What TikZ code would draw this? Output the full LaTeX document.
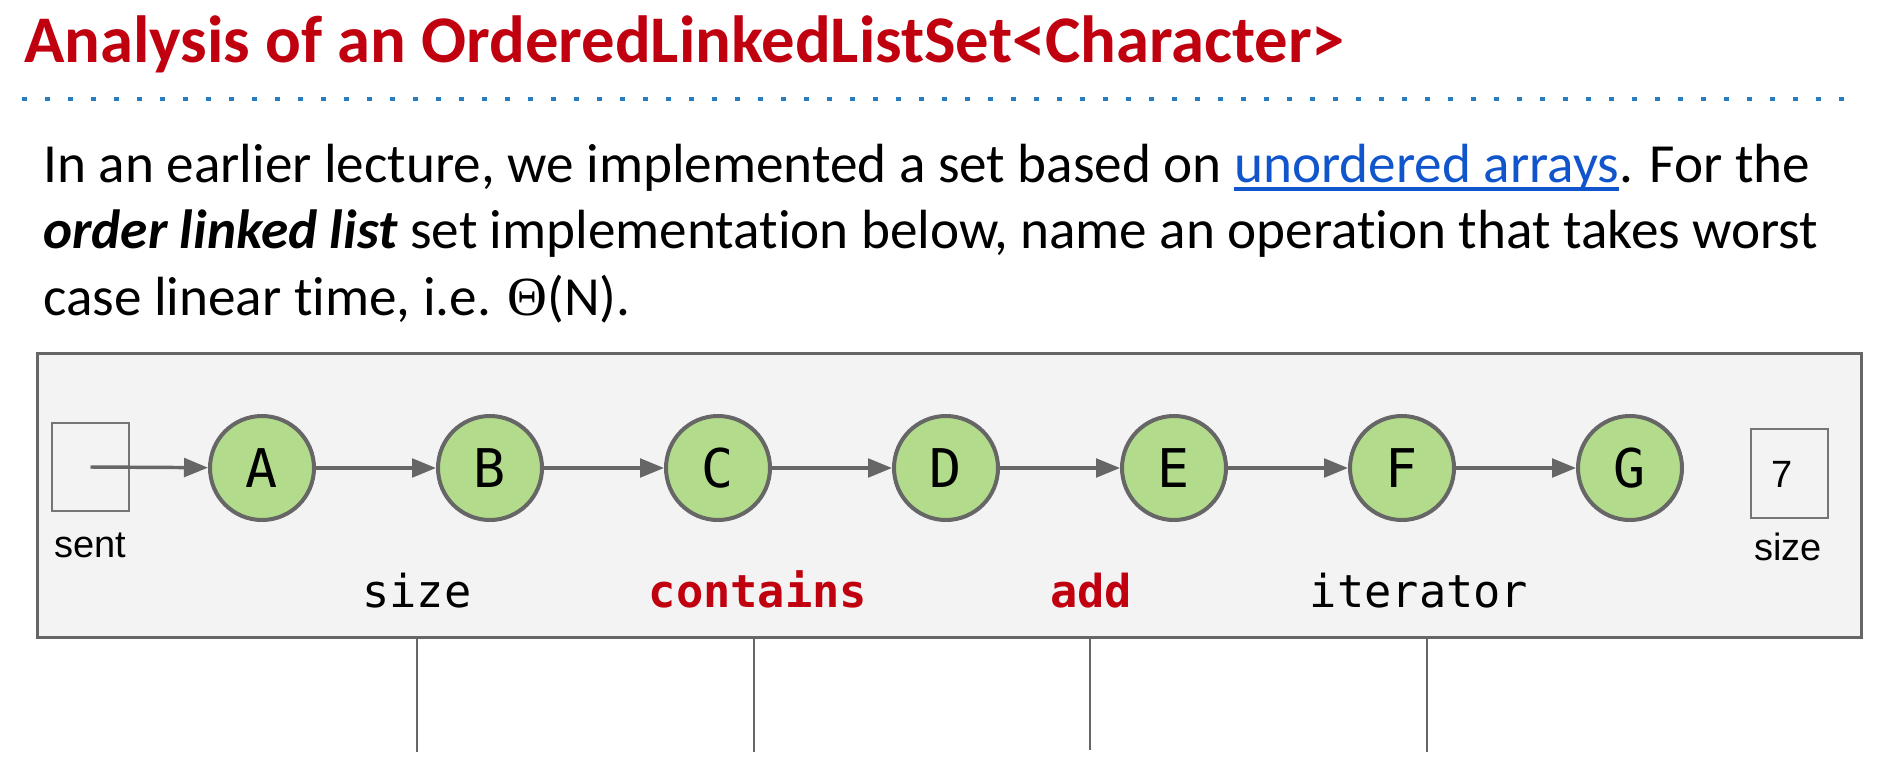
\documentclass[tikz,border=0pt]{standalone}
\usepackage{fontspec}
\setmainfont{Carlito}[Ligatures=NoCommon]
\newfontfamily\codefont{DejaVu Sans Mono}
\newfontfamily\plainsans{Liberation Sans}
\newfontfamily\thetafont{Liberation Serif}
\usetikzlibrary{arrows.meta}

\definecolor{titlered}{HTML}{C0000F}
\definecolor{linkblue}{HTML}{1155CC}
\definecolor{rulerblue}{HTML}{2B7BC0}
\definecolor{edgegray}{HTML}{666666}
\definecolor{panelgray}{HTML}{F3F3F3}
\definecolor{nodegreen}{HTML}{B3DB8C}

% thick hyperlink-style underline
\newcommand\linkunder[1]{\setbox0\hbox{#1}\rlap{\rule[-6.5pt]{\wd0}{2.6pt}}\box0}

\begin{document}
\begin{tikzpicture}[x=0.75pt,y=-0.75pt,
  bodytext/.style={anchor=base west, inner sep=0, font=\fontsize{41.4}{41.4}\selectfont},
  listnode/.style={circle, draw=edgegray, line width=3pt, fill=nodegreen,
    minimum size=78pt, inner sep=0, text height=29pt, text depth=0pt,
    font=\codefont\fontsize{40}{40}\selectfont},
  link/.style={draw=edgegray, line width=2.6pt, -{Triangle[length=18pt,width=14pt]}},
  valbox/.style={rectangle, draw=edgegray!90, line width=1.4pt, fill=panelgray, inner sep=0},
  boxcaption/.style={anchor=base, inner sep=0, font=\plainsans\fontsize{28.5}{28.5}\selectfont},
  oplabel/.style={anchor=base, inner sep=0, font=\codefont\fontsize{34}{34}\selectfont},
  hotop/.style={oplabel, text=titlered, font=\codefont\bfseries\fontsize{34}{34}\selectfont},
  stem/.style={draw=edgegray, line width=2pt}
]
\useasboundingbox (0,0) rectangle (1896,774);

% heading and dotted rule
\node[anchor=base west, inner sep=0, text=titlered,
  font=\bfseries\fontsize{50}{50}\selectfont] (title) at (24,63)
  {Analysis of an OrderedLinkedListSet<Character>};
\draw[rulerblue, line width=3pt, dash pattern=on 3.75pt off 13.5pt] (22,99.5) -- (1850,99.5);

% question text
\node[bodytext] (line1) at (43,182)
  {In an earlier lecture, we implemented a set based on {\color{linkblue}\linkunder{unordered arrays}}. For the};
\node[bodytext] (line2) at (43,248)
  {\textbf{\textit{order linked list}} set implementation below, name an operation that takes worst};
\node[bodytext] (line3) at (43,315)
  {case linear time, i.e. {\thetafont Θ}(N).};

% panel holding the list
\node[rectangle, draw=edgegray, line width=2.25pt, fill=panelgray, outer sep=0,
  anchor=north west, minimum width=1368pt, minimum height=213pt] (panel) at (37,353) {};

% sentinel and size fields
\node[valbox, minimum width=57.75pt, minimum height=66pt] (sent) at (90.5,467) {};
\node[boxcaption] (sentcap) at (90,557) {sent};
\node[valbox, minimum width=57.75pt, minimum height=66.75pt] (sizebox) at (1789.5,473.5) {};
\node[inner sep=0, font=\plainsans\fontsize{28.5}{28.5}\selectfont] (sizeval) at (1782,474.5) {7};
\node[boxcaption] (sizecap) at (1788,560) {size};

% list nodes
\foreach \name [count=\i from 0] in {A,B,C,D,E,F,G}
  \node[listnode] (\name) at (262+228*\i,468) {\name};

% links
\draw[link] (sent.center) -- (A);
\draw[link] (A) -- (B);
\draw[link] (B) -- (C);
\draw[link] (C) -- (D);
\draw[link] (D) -- (E);
\draw[link] (E) -- (F);
\draw[link] (F) -- (G);

% candidate operations
\node[oplabel] (opsize) at (417,607) {size};
\node[hotop] (opcontains) at (758,607) {contains};
\node[hotop] (opadd) at (1091,607) {add};
\node[oplabel] (opiter) at (1419,607) {iterator};

% answer stems under the panel
\coordinate (stem1) at (417,752);
\coordinate (stem2) at (754,752);
\coordinate (stem3) at (1090,750);
\coordinate (stem4) at (1427,752);
\foreach \s in {stem1,stem2,stem3,stem4}
  \draw[stem] (panel.south -| \s) -- (\s);
\end{tikzpicture}
\end{document}
